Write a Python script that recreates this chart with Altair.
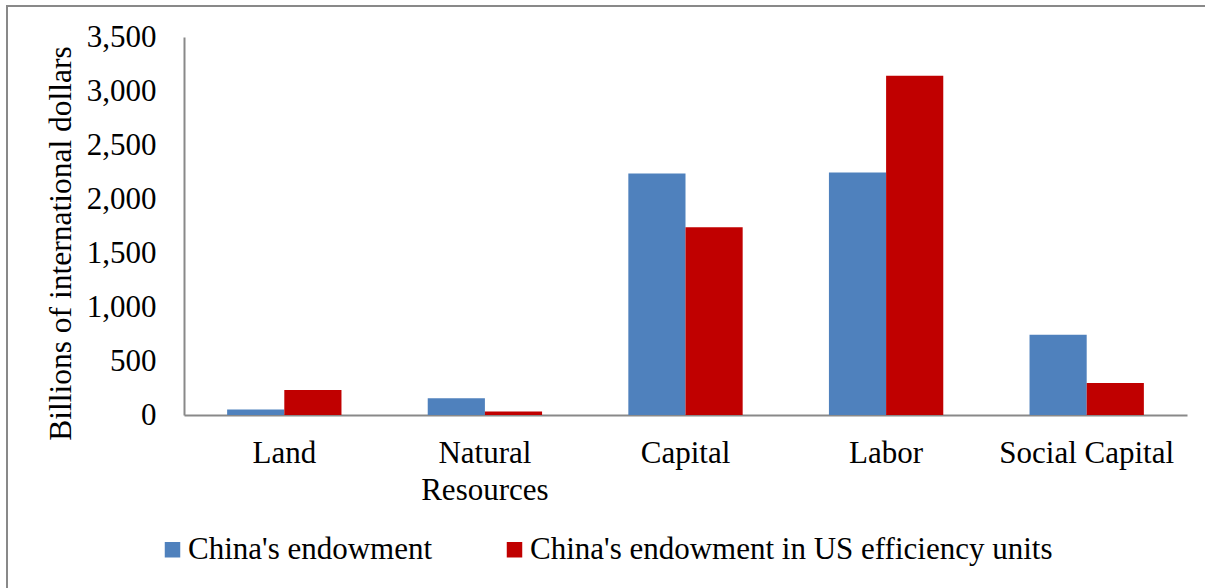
import altair as alt
import pandas as pd

# Factor endowments, billions of international dollars
categories = ["Land", "Natural Resources", "Capital", "Labor", "Social Capital"]
endowment = [50, 155, 2237, 2246, 744]
endowment_us_units = [231, 33, 1738, 3142, 296]
series_names = ["China's endowment", "China's endowment in US efficiency units"]
series_colors = ["#4f81bd", "#c00000"]
y_ticks = [0, 500, 1000, 1500, 2000, 2500, 3000, 3500]

rows = []
for cat, a, b in zip(categories, endowment, endowment_us_units):
    rows.append({"factor": cat, "series": series_names[0], "value": a})
    rows.append({"factor": cat, "series": series_names[1], "value": b})
df = pd.DataFrame(rows)

FONT = "Liberation Serif"
FS = 31
GRAY = "#898989"

bars = alt.Chart(df).mark_bar().encode(
    x=alt.X(
        "factor:N",
        sort=categories,
        scale=alt.Scale(paddingInner=0.43, paddingOuter=0.215),
        axis=alt.Axis(
            title=None,
            labelAngle=0,
            labelFont=FONT,
            labelFontSize=FS,
            labelColor="black",
            ticks=False,
            domainColor=GRAY,
            domainWidth=2,
            labelPadding=23,
            labelLineHeight=37,
            labelLimit=400,
            labelExpr="datum.value == 'Natural Resources' ? ['Natural', 'Resources'] : datum.value",
        ),
    ),
    xOffset=alt.XOffset("series:N", sort=series_names),
    y=alt.Y(
        "value:Q",
        scale=alt.Scale(domain=[0, 3500], nice=False),
        axis=alt.Axis(
            values=y_ticks,
            format=",.0f",
            grid=False,
            ticks=False,
            labelPadding=28,
            labelFont=FONT,
            labelFontSize=FS,
            labelColor="black",
            domainColor=GRAY,
            domainWidth=2,
            title="Billions of international dollars",
            titleFont=FONT,
            titleFontSize=31.5,
            titleFontWeight="normal",
            titleColor="black",
            titleAngle=-90,
            titleX=-114,
            titleY=206,
            titleAlign="center",
            titleBaseline="alphabetic",
        ),
    ),
    color=alt.Color(
        "series:N",
        sort=series_names,
        scale=alt.Scale(domain=series_names, range=series_colors),
        legend=alt.Legend(
            title=None,
            orient="none",
            legendX=-27,
            legendY=497,
            direction="horizontal",
            symbolType="square",
            symbolSize=240,
            symbolStrokeWidth=0,
            symbolOpacity=1,
            labelFont=FONT,
            labelFontSize=FS,
            labelColor="black",
            labelOffset=0,
            labelLimit=800,
            columnPadding=66,
            padding=0,
        ),
    ),
)

# Thin gray frame around the whole figure
frame = alt.Chart(alt.Data(values=[{}])).mark_rect(
    fillOpacity=0, stroke=GRAY, strokeWidth=2
).encode(
    x=alt.value(-177),
    y=alt.value(-31),
    x2=alt.value(1230),
    y2=alt.value(600),
)

chart = alt.layer(frame, bars).properties(
    width=1003,
    height=378,
    autosize=alt.AutoSizeParams(type="none"),
    padding={"left": 184, "top": 37, "right": 18, "bottom": 173},
    background="white",
).configure(
    font=FONT
).configure_view(
    stroke=None
).configure_legend(
    labelFont=FONT
).configure_axis(
    labelFont=FONT, titleFont=FONT
)

chart.save("out.html", embed_options={"renderer": "svg", "actions": False})
